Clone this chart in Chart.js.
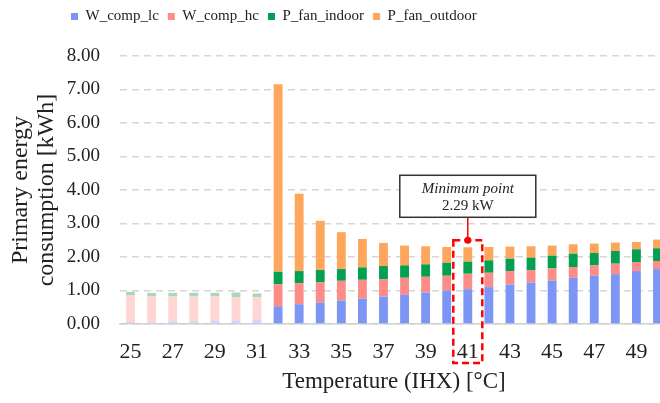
<!DOCTYPE html>
<html>
<head>
<meta charset="utf-8">
<script src="https://cdn.jsdelivr.net/npm/chart.js@4.4.1/dist/chart.umd.min.js"></script>
<style>
  html, body { margin: 0; padding: 0; overflow: hidden; background: #fff; }
  #wrap { width: 673px; height: 403px; }
</style>
</head>
<body>
<div id="wrap"><canvas id="energyChart"></canvas></div>
<script>
// IHX temperature [°C]
const temps = [25, 26, 27, 28, 29, 30, 31, 32, 33, 34, 35, 36, 37, 38, 39, 40, 41, 42, 43, 44, 45, 46, 47, 48, 49, 50];

// energy components [kWh]
const wCompLc    = [0.06, 0.05, 0.08, 0.08, 0.11, 0.11, 0.14, 0.53, 0.59, 0.64, 0.70, 0.76, 0.82, 0.87, 0.94, 1.00, 1.04, 1.10, 1.18, 1.24, 1.30, 1.38, 1.44, 1.49, 1.58, 1.64];
const wCompHc    = [0.79, 0.77, 0.74, 0.74, 0.71, 0.69, 0.66, 0.66, 0.63, 0.61, 0.59, 0.56, 0.52, 0.51, 0.47, 0.44, 0.46, 0.43, 0.40, 0.37, 0.36, 0.32, 0.31, 0.31, 0.27, 0.24];
const pFanIndoor = [0.11, 0.11, 0.11, 0.11, 0.11, 0.14, 0.11, 0.37, 0.36, 0.36, 0.35, 0.37, 0.39, 0.37, 0.37, 0.39, 0.36, 0.37, 0.37, 0.37, 0.38, 0.40, 0.37, 0.38, 0.38, 0.38];
const pFanOutdoor = [0, 0, 0, 0, 0, 0, 0, 5.60, 2.31, 1.47, 1.10, 0.85, 0.69, 0.59, 0.54, 0.47, 0.43, 0.40, 0.36, 0.34, 0.30, 0.28, 0.28, 0.25, 0.22, 0.26];

// only every other temperature gets a label
const tickLabels = ['25', '', '27', '', '29', '', '31', '', '33', '', '35', '', '37', '', '39', '', '41', '', '43', '', '45', '', '47', '', '49', ''];
const yTicks = [0, 1, 2, 3, 4, 5, 6, 7, 8];

const fadedUpTo = 31;   // results below the valid range are drawn pale
const minTemp = 41;

const SERIF = "'Liberation Serif', 'Times New Roman', serif";
const TEXT = '#222';

const series = [
  { label: 'W_comp_lc',     data: wCompLc,     base: '#7d95f4', pale: '#cdd6fb' },
  { label: 'W_comp_hc',     data: wCompHc,     base: '#fb8c87', pale: '#ffd6d3' },
  { label: 'P_fan_indoor',  data: pFanIndoor,  base: '#02a050', pale: '#a8d8b6' },
  { label: 'P_fan_outdoor', data: pFanOutdoor, base: '#fea65c', pale: '#ffdcbc' }
];

const datasets = series.map(s => ({
  label: s.label,
  data: s.data,
  backgroundColor: ctx => temps[ctx.dataIndex] <= fadedUpTo ? s.pale : s.base,
  borderWidth: 0,
  categoryPercentage: 1,
  barPercentage: 0.42
}));

// legend sits left of centre, close to the top edge
const legendPlace = {
  id: 'legendPlace',
  beforeDraw(chart) {
    chart.legend.left = 62;
    chart.legend.top = 0;
  }
};

// callout box + dashed frame around the minimum
const minMarker = {
  id: 'minMarker',
  afterDatasetsDraw(chart) {
    const { ctx, scales: { x, y }, chartArea } = chart;
    const i = temps.indexOf(minTemp);
    const total = wCompLc[i] + wCompHc[i] + pFanIndoor[i] + pFanOutdoor[i];
    const cx = x.getPixelForValue(i);
    const topY = y.getPixelForValue(total);

    const frameTop = topY - 7;
    const frameBottom = chartArea.bottom + 39;
    const boxW = 136, boxH = 42;
    const boxTop = topY - 72;

    ctx.save();
    // frame
    ctx.strokeStyle = '#ff0000';
    ctx.lineWidth = 2.5;
    ctx.setLineDash([7, 4]);
    ctx.strokeRect(cx - 14.5, frameTop, 29, frameBottom - frameTop);
    ctx.setLineDash([]);

    // connector
    ctx.lineWidth = 1.5;
    ctx.beginPath();
    ctx.moveTo(cx, boxTop + boxH);
    ctx.lineTo(cx, frameTop);
    ctx.stroke();
    ctx.fillStyle = '#ff0000';
    ctx.beginPath();
    ctx.arc(cx, frameTop, 3.5, 0, Math.PI * 2);
    ctx.fill();

    // text box
    ctx.fillStyle = '#fff';
    ctx.fillRect(cx - boxW / 2, boxTop, boxW, boxH);
    ctx.strokeStyle = '#333';
    ctx.lineWidth = 1.5;
    ctx.strokeRect(cx - boxW / 2, boxTop, boxW, boxH);

    ctx.fillStyle = TEXT;
    ctx.textAlign = 'center';
    ctx.textBaseline = 'middle';
    ctx.font = 'italic 15px ' + SERIF;
    ctx.fillText('Minimum point', cx, boxTop + 14);
    ctx.font = '15px ' + SERIF;
    ctx.fillText(total.toFixed(2) + ' kW', cx, boxTop + 31);
    ctx.restore();
  }
};

new Chart(document.getElementById('energyChart'), {
  type: 'bar',
  data: { labels: temps, datasets: datasets },
  plugins: [legendPlace, minMarker],
  options: {
    responsive: true,
    maintainAspectRatio: false,
    animation: false,
    layout: { padding: { top: 22, left: 0, right: 0, bottom: 0 } },
    plugins: {
      legend: {
        position: 'top',
        align: 'start',
        labels: {
          boxWidth: 7,
          boxHeight: 7,
          padding: 9,
          color: TEXT,
          font: { family: SERIF, size: 15 },
          // swatches always use the full colour
          generateLabels: chart => series.map((s, i) => ({
            text: s.label,
            fillStyle: s.base,
            strokeStyle: s.base,
            lineWidth: 0,
            fontColor: TEXT,
            hidden: !chart.isDatasetVisible(i),
            datasetIndex: i
          }))
        }
      },
      tooltip: { enabled: false }
    },
    scales: {
      x: {
        stacked: true,
        afterFit: s => { s.height = 79; },
        grid: { display: false, drawTicks: false },
        border: { display: true, color: '#d0d0d0', width: 1.5 },
        ticks: {
          autoSkip: false,
          maxRotation: 0,
          padding: 15.5,
          color: TEXT,
          font: { family: SERIF, size: 22 },
          callback: (v, i) => tickLabels[i]
        },
        title: {
          display: true,
          text: 'Temperature (IHX) [°C]',
          color: TEXT,
          font: { family: SERIF, size: 23 },
          padding: { top: 2, bottom: 7 }
        }
      },
      y: {
        stacked: true,
        min: yTicks[0],
        max: yTicks[yTicks.length - 1],
        afterBuildTicks: s => { s.ticks = yTicks.map(v => ({ value: v })); },
        afterFit: s => { s.width = 120; },
        grid: { color: '#d6d6d6', lineWidth: 1.5, drawTicks: false },
        border: { display: false, dash: [7, 5] },
        ticks: {
          padding: 20,
          color: TEXT,
          font: { family: SERIF, size: 19 },
          callback: v => v.toFixed(2)
        },
        title: {
          display: true,
          text: ['Primary energy', 'consumption [kWh]'],
          color: TEXT,
          font: { family: SERIF, size: 24, lineHeight: 1.08 },
          padding: { top: 8, bottom: 0 }
        }
      }
    }
  }
});
</script>
</body>
</html>
